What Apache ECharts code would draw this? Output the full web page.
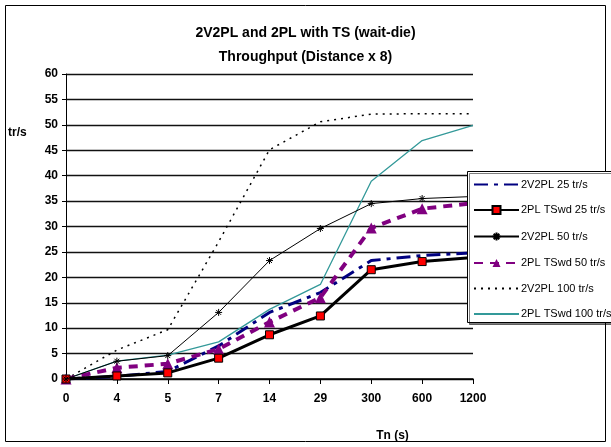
<!DOCTYPE html>
<html><head><meta charset="utf-8">
<script src="https://cdn.jsdelivr.net/npm/echarts@6/dist/echarts.min.js"></script>
<style>html,body{margin:0;padding:0;background:#fff}#c{width:611px;height:447px}</style>
</head><body><div id="c"></div>
<script>
var categories = ['0','4','5','7','14','29','300','600','1200'];
var yTicks = [0,5,10,15,20,25,30,35,40,45,50,55,60];
var s2v2pl25  = [0, 0.5, 1.5, 6.5, 13.1, 17.0, 23.3, 24.3, 24.8];
var s2pl25    = [0, 0.6, 1.2, 4.1, 8.7, 12.4, 21.5, 23.1, 23.9];
var s2v2pl50  = [0, 3.5, 4.6, 13.1, 23.3, 29.6, 34.5, 35.5, 35.9];
var s2pl50    = [0, 2.2, 3.0, 5.9, 11.2, 16.0, 29.7, 33.5, 34.6];
var s2v2pl100 = [0, 5.7, 9.7, 27.0, 45.1, 50.6, 52.1, 52.2, 52.2];
var s2pl100   = [0, 3.5, 4.7, 7.3, 13.7, 18.6, 38.9, 46.9, 49.9];
var names = ['2V2PL 25 tr/s','2PL TSwd 25 tr/s','2V2PL 50 tr/s','2PL TSwd 50 tr/s','2V2PL 100 tr/s','2PL TSwd 100 tr/s'];

var F = 'Liberation Sans, Arial, sans-serif';
var chart = echarts.init(document.getElementById('c'), null, {renderer:'canvas'});
var star = 'path://M0,5L10,5M5,0L5,10M1.5,1.5L8.5,8.5M8.5,1.5L1.5,8.5';
var noSym = {color:'transparent',borderWidth:0,opacity:0};
chart.setOption({
  animation:false,
  backgroundColor:'#fff',
  textStyle:{fontFamily:F},
  title:{
    text:'2V2PL and 2PL with TS (wait-die)\nThroughput (Distance x 8)',
    left:'center', top:16,
    textStyle:{fontFamily:F,fontSize:14,fontWeight:'bold',color:'#000',lineHeight:24}
  },
  graphic:[
    {type:'rect',shape:{x:5.5,y:5.5,width:600,height:436},style:{fill:'none',stroke:'#000',lineWidth:1},z:-10},
    {type:'rect',shape:{x:467.5,y:171.5,width:160,height:151},style:{fill:'#fff',stroke:'#000',lineWidth:1,shadowColor:'rgba(0,0,0,0.5)',shadowOffsetX:2,shadowOffsetY:2,shadowBlur:0},z:50},
    {type:'text',left:8,top:127,style:{text:'tr/s',font:'bold 12px '+F,fill:'#000'}}
  ],
  grid:{left:66,right:138,top:74,bottom:67,containLabel:false},
  legend:{
    orient:'vertical', left:468, top:174, itemWidth:45, itemHeight:10, itemGap:14.5,
    textStyle:{fontFamily:F,fontSize:11,color:'#000',padding:[0,0,0,-3]},
    data:[
      {name:names[0],itemStyle:noSym},
      {name:names[1]},
      {name:names[2]},
      {name:names[3]},
      {name:names[4],itemStyle:noSym},
      {name:names[5],itemStyle:noSym}
    ], z:60, selectedMode:false
  },
  xAxis:{
    type:'category', data:categories, boundaryGap:false,
    name:'Tn (s)', nameLocation:'middle', nameGap:51,
    nameTextStyle:{fontFamily:F,fontSize:12,fontWeight:'bold',color:'#000',padding:[0,0,0,246]},
    axisLine:{lineStyle:{color:'#000',width:1.5}},
    axisTick:{show:true,length:5,lineStyle:{color:'#000'}},
    axisLabel:{fontFamily:F,fontSize:12,fontWeight:'bold',color:'#000',margin:14},
    splitLine:{show:false}
  },
  yAxis:{
    type:'value', min:0, max:60, interval:5,
    axisLine:{show:true,lineStyle:{color:'#000',width:1}},
    axisTick:{show:true,length:4,lineStyle:{color:'#000'}},
    axisLabel:{fontFamily:F,fontSize:12,fontWeight:'bold',color:'#000',margin:8},
    splitLine:{show:true,lineStyle:{color:'#111',width:1.4}}
  },
  series:[
    {name:names[0],type:'line',data:s2v2pl25,symbol:'none',z:3,
     lineStyle:{color:'#000080',width:3,type:[14,6,4,6]},itemStyle:{color:'#000080'}},
    {name:names[1],type:'line',data:s2pl25,symbol:'rect',symbolSize:8,z:4,
     lineStyle:{color:'#000',width:3},itemStyle:{color:'#ff0000',borderColor:'#000',borderWidth:1}},
    {name:names[2],type:'line',data:s2v2pl50,symbol:star,symbolSize:7,z:5,
     lineStyle:{color:'#000',width:1},itemStyle:{color:'none',borderColor:'#000',borderWidth:1}},
    {name:names[3],type:'line',data:s2pl50,symbol:'triangle',symbolSize:11,z:3,
     lineStyle:{color:'#800080',width:4,type:[9,7]},itemStyle:{color:'#800080'}},
    {name:names[4],type:'line',data:s2v2pl100,symbol:'none',z:2,
     lineStyle:{color:'#000',width:1.5,type:[2,5]},itemStyle:{color:'#000'}},
    {name:names[5],type:'line',data:s2pl100,symbol:'none',z:2,
     lineStyle:{color:'#339999',width:1.3},itemStyle:{color:'#339999'}}
  ]
});
</script></body></html>
